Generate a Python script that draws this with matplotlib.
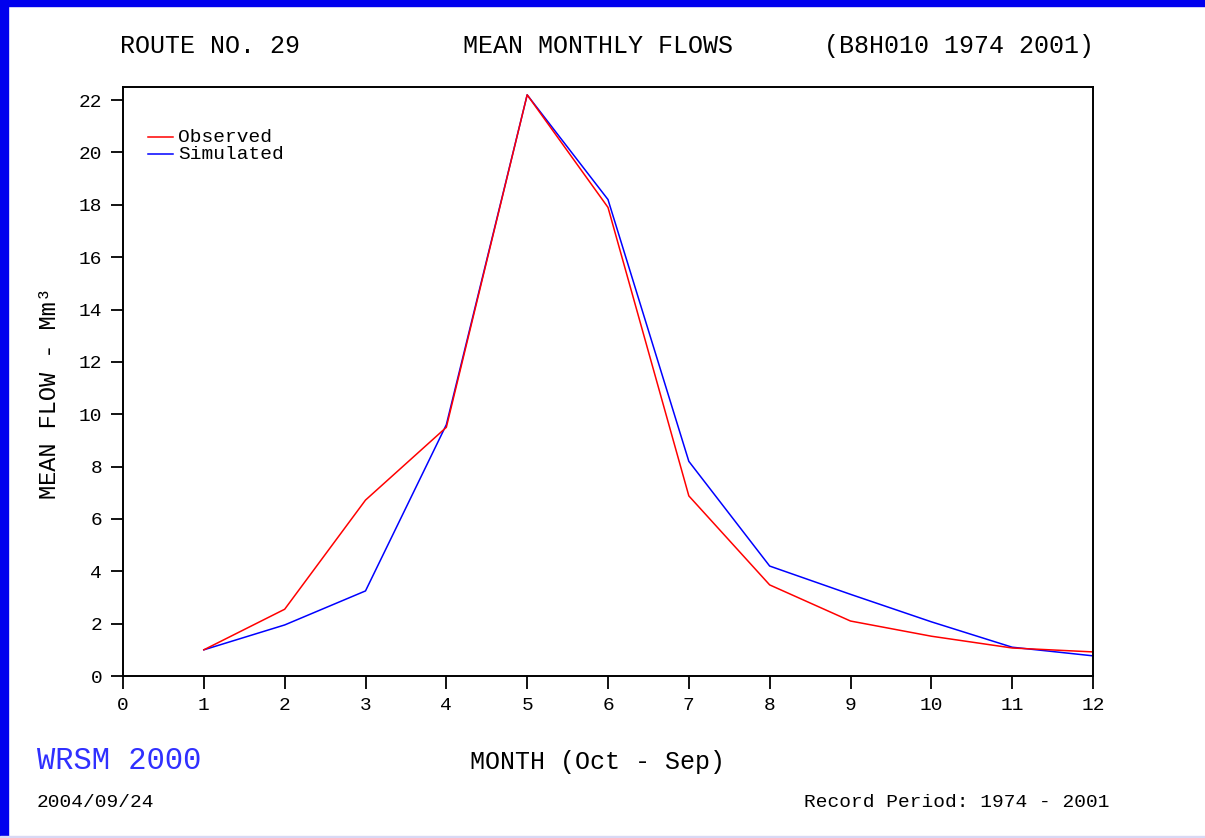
import matplotlib
matplotlib.use("Agg")
import matplotlib.pyplot as plt
from matplotlib.patches import Rectangle

# mean monthly flows (Mm3), months Oct - Sep
months = [1, 2, 3, 4, 5, 6, 7, 8, 9, 10, 11, 12]
observed = [1.0, 2.55, 6.72, 9.5, 22.2, 17.9, 6.88, 3.48, 2.1, 1.52, 1.07, 0.92]
simulated = [1.0, 1.95, 3.25, 9.6, 22.2, 18.2, 8.2, 4.2, 3.12, 2.07, 1.1, 0.77]

x_ticks = list(range(0, 13))
y_ticks = list(range(0, 23, 2))

FONT = "Liberation Mono"

fig = plt.figure(figsize=(12.05, 8.38), dpi=100)
W, H = 1205, 838

# blue frame around the whole picture
fig.patches.append(Rectangle((0, 1 - 6 / H), 1, 6 / H, transform=fig.transFigure, color="#0000ee", zorder=0))
fig.patches.append(Rectangle((0, 0), 8 / W, 1, transform=fig.transFigure, color="#0000ee", zorder=0))
fig.patches.append(Rectangle((0, 0), 1, 2 / H, transform=fig.transFigure, color="#d8d8f4", zorder=0))

# axes box: x 123..1093, y 87..676 in pixels
ax = fig.add_axes([123 / W, 1 - 676 / H, (1093 - 123) / W, (676 - 87) / H])

ax.plot(months, simulated, color="#0000ff", lw=1.1)
ax.plot(months, observed, color="#ff0000", lw=1.1)

ax.set_xlim(0, 12)
ax.set_ylim(0, 22.5)
ax.set_xticks(x_ticks)
ax.set_yticks(y_ticks)
ax.tick_params(direction="out", length=9, width=1.3, labelsize=14, pad=6)
for lab in ax.get_xticklabels() + ax.get_yticklabels():
    lab.set_fontfamily(FONT)
for s in ax.spines.values():
    s.set_linewidth(1.4)

ax.set_ylabel("MEAN FLOW - Mm³", fontsize=17, family=FONT)
ax.yaxis.set_label_coords(-0.064, 0.48)

# legend drawn by hand, entries overlap like in the original
ax.plot([0.026, 0.052], [0.915, 0.915], transform=ax.transAxes, color="#ff0000", lw=1.1)
ax.plot([0.026, 0.052], [0.886, 0.886], transform=ax.transAxes, color="#0000ff", lw=1.1)
ax.text(0.057, 0.915, "Observed", transform=ax.transAxes, fontsize=14, family=FONT, va="center")
ax.text(0.057, 0.886, "Simulated", transform=ax.transAxes, fontsize=14, family=FONT, va="center")

# header
fig.text(120 / W, 1 - 46 / H, "ROUTE NO. 29", fontsize=18, family=FONT, va="center")
fig.text(463 / W, 1 - 46 / H, "MEAN MONTHLY FLOWS", fontsize=18, family=FONT, va="center")
fig.text(1094 / W, 1 - 46 / H, "(B8H010 1974 2001)", fontsize=18, family=FONT, va="center", ha="right")

# footer
fig.text(598 / W, 1 - 762 / H, "MONTH (Oct - Sep)", fontsize=18, family=FONT, va="center", ha="center")
fig.text(37 / W, 1 - 761 / H, "WRSM 2000", fontsize=22, family=FONT, va="center", color="#3030ff")
fig.text(37 / W, 1 - 802 / H, "2004/09/24", fontsize=14, family=FONT, va="center")
fig.text(1109 / W, 1 - 802 / H, "Record Period: 1974 - 2001", fontsize=14, family=FONT, va="center", ha="right")

fig.savefig("out.png", dpi=100)
